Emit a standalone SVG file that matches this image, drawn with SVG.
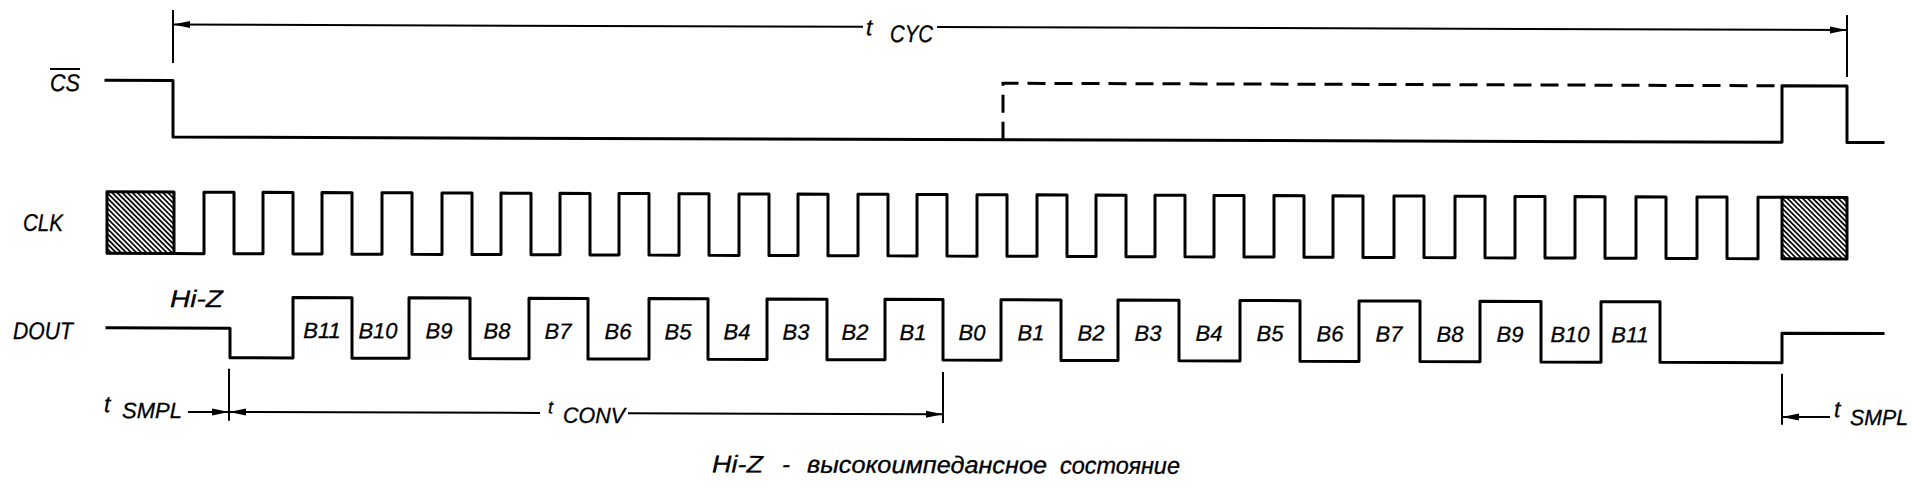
<svg xmlns="http://www.w3.org/2000/svg" width="1924" height="490" viewBox="0 0 1924 490">
<style>
.sig{fill:none;stroke:#000;stroke-width:3;stroke-linejoin:round;stroke-linecap:square}
.dash{fill:none;stroke:#000;stroke-width:3;stroke-dasharray:18 9}
.dim{fill:none;stroke:#000;stroke-width:2}
.tick{fill:none;stroke:#000;stroke-width:2}
.arr{fill:none;stroke:#000;stroke-width:2;marker-end:url(#ah)}
.hatch{fill:url(#hp);stroke:#000;stroke-width:3;stroke-linejoin:round}
text{font-family:"Liberation Sans","DejaVu Sans",sans-serif;font-style:italic;fill:#000;stroke:#000;stroke-width:0.3}
.nm{font-size:24px}
.bit{font-size:22px;text-anchor:middle}
.sub{font-size:22px}
.tt{font-size:23px}
</style>
<defs>
<marker id="ah" markerUnits="userSpaceOnUse" markerWidth="18" markerHeight="8" refX="17" refY="4" orient="auto">
<path d="M0,0.5 L17,4 L0,7.5 z" fill="#000"/>
</marker>
<pattern id="hp" patternUnits="userSpaceOnUse" width="3.6" height="3.6" patternTransform="rotate(-45)">
<rect width="3.6" height="3.6" fill="#fff"/>
<line x1="0.9" y1="0" x2="0.9" y2="3.6" stroke="#000" stroke-width="1.7"/>
</pattern>
</defs>
<rect width="1924" height="490" fill="#fff"/>
<g transform="skewY(0.185)">
<g id="signal-cs">
<text class="nm" x="50" y="90.8" textLength="30" lengthAdjust="spacingAndGlyphs">CS</text>
<line x1="50" y1="68.8" x2="80" y2="68.8" stroke="#000" stroke-width="2"/>
<path class="sig" d="M106,80 H173 V136.5 H1782 V80 H1847 V136.5 H1883"/>
<path class="dash" d="M1003,136.5 V80 H1782"/>
</g>
<g id="signal-clk">
<text class="nm" x="23" y="230.8" textLength="40" lengthAdjust="spacingAndGlyphs">CLK</text>
<rect class="hatch" x="107" y="191.5" width="67" height="61.5"/>
<rect class="hatch" x="1782" y="191.5" width="65" height="61.5"/>
<path class="sig" d="M174,253 H204 V191.5 H234 V253 H263 V191.5 H293 V253 H322 V191.5 H352 V253 H382 V191.5 H412 V253 H442 V191.5 H472 V253 H501 V191.5 H531 V253 H560 V191.5 H590 V253 H619 V191.5 H649 V253 H679 V191.5 H709 V253 H739 V191.5 H769 V253 H798 V191.5 H828 V253 H858 V191.5 H888 V253 H917 V191.5 H947 V253 H977 V191.5 H1007 V253 H1037 V191.5 H1067 V253 H1096 V191.5 H1126 V253 H1155 V191.5 H1185 V253 H1214 V191.5 H1244 V253 H1274 V191.5 H1304 V253 H1333 V191.5 H1363 V253 H1394 V191.5 H1424 V253 H1455 V191.5 H1485 V253 H1515 V191.5 H1545 V253 H1575 V191.5 H1605 V253 H1636 V191.5 H1666 V253 H1697 V191.5 H1727 V253 H1758 V191.5 H1782"/>
</g>
<g id="signal-dout">
<text class="nm" x="13" y="338.9" textLength="60" lengthAdjust="spacingAndGlyphs">DOUT</text>
<text class="nm" x="170" y="306.4" textLength="53" lengthAdjust="spacingAndGlyphs">Hi-Z</text>
<path class="sig" d="M107,327.5 H230 V357 H293 V296.5 H352 V357 H409 V296.5 H470 V357 H529 V296.5 H588 V357 H649 V296.5 H708 V357 H767 V296.5 H827 V357 H885 V296.5 H943 V357 H1001 V296.5 H1061 V357 H1118 V296.5 H1179 V357 H1240 V296.5 H1300 V357 H1359 V296.5 H1420 V357 H1480 V296.5 H1541 V357 H1601 V296.5 H1660 V357 H1782 V327.5 H1883"/>
<g id="dout-bits">
<text class="bit" x="322" y="337">B11</text>
<text class="bit" x="378" y="337">B10</text>
<text class="bit" x="439" y="337">B9</text>
<text class="bit" x="497" y="337">B8</text>
<text class="bit" x="558" y="337">B7</text>
<text class="bit" x="618" y="337">B6</text>
<text class="bit" x="678" y="337">B5</text>
<text class="bit" x="737" y="337">B4</text>
<text class="bit" x="796" y="337">B3</text>
<text class="bit" x="855" y="337">B2</text>
<text class="bit" x="913" y="337">B1</text>
<text class="bit" x="972" y="337">B0</text>
<text class="bit" x="1031" y="337">B1</text>
<text class="bit" x="1091" y="337">B2</text>
<text class="bit" x="1148" y="337">B3</text>
<text class="bit" x="1209" y="337">B4</text>
<text class="bit" x="1270" y="337">B5</text>
<text class="bit" x="1330" y="337">B6</text>
<text class="bit" x="1389" y="337">B7</text>
<text class="bit" x="1450" y="337">B8</text>
<text class="bit" x="1510" y="337">B9</text>
<text class="bit" x="1570" y="337">B10</text>
<text class="bit" x="1630" y="337">B11</text>
</g>
</g>
<g id="connectors">
<g id="dim-tcyc">
<line class="tick" x1="173" y1="9.5" x2="173" y2="62.5"/>
<line class="tick" x1="1847" y1="9" x2="1847" y2="71"/>
<line class="arr" x1="863" y1="24" x2="173" y2="24"/>
<line class="arr" x1="937" y1="24" x2="1847" y2="24"/>
<text class="tt" x="866" y="32.5">t</text>
<text class="nm" x="890" y="39.1" textLength="43" lengthAdjust="spacingAndGlyphs">CYC</text>
</g>
<g id="dim-tsmpl-left">
<line class="tick" x1="229" y1="368" x2="229" y2="420"/>
<line class="arr" x1="188" y1="411.3" x2="229" y2="411.3"/>
<text class="tt" x="104" y="411.6">t</text>
<text class="sub" x="122" y="417.5" textLength="60" lengthAdjust="spacingAndGlyphs">SMPL</text>
</g>
<g id="dim-tconv">
<line class="tick" x1="943" y1="369" x2="943" y2="420"/>
<line class="arr" x1="540" y1="411.2" x2="229" y2="411.2"/>
<line class="arr" x1="628" y1="411.2" x2="943" y2="411.2"/>
<text class="tt" x="548" y="411.5" style="font-size:18px">t</text>
<text class="sub" x="563" y="421" textLength="62" lengthAdjust="spacingAndGlyphs">CONV</text>
</g>
<g id="dim-tsmpl-right">
<line class="tick" x1="1782" y1="368" x2="1782" y2="419"/>
<line class="arr" x1="1830" y1="411.2" x2="1782" y2="411.2"/>
<text class="tt" x="1834" y="411">t</text>
<text class="sub" x="1850" y="419" textLength="58" lengthAdjust="spacingAndGlyphs">SMPL</text>
</g>
</g>
<g id="caption">
<text class="nm" y="470"><tspan x="712" textLength="51" lengthAdjust="spacingAndGlyphs">Hi-Z</tspan><tspan x="782">-</tspan><tspan x="807" textLength="240" lengthAdjust="spacingAndGlyphs">высокоимпедансное</tspan><tspan x="1060" textLength="120" lengthAdjust="spacingAndGlyphs">состояние</tspan></text>
</g>
</g>
</svg>
